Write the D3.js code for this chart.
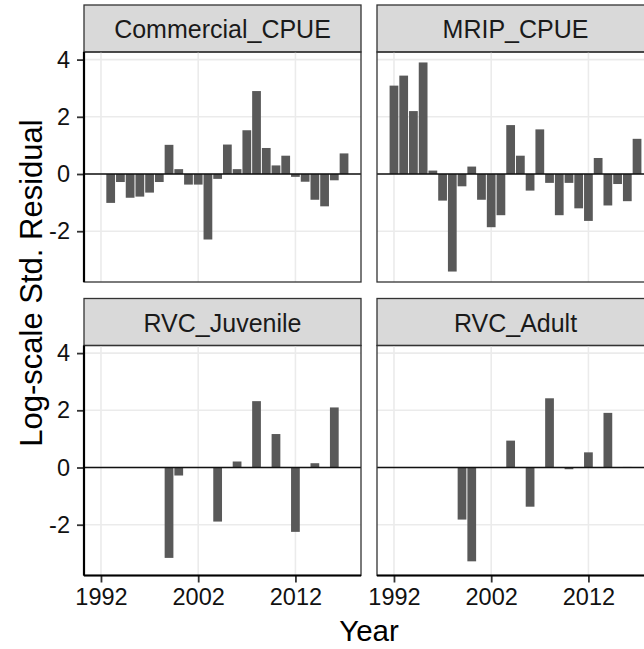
<!DOCTYPE html>
<html><head><meta charset="utf-8">
<script src="https://cdn.jsdelivr.net/npm/d3@7"></script>
<style>
html,body{margin:0;padding:0;background:#fff;}
text{font-family:"Liberation Sans",Arial,Helvetica,sans-serif;}
</style></head>
<body>
<svg id="chart" width="644" height="649"></svg>
<script>
const commercialYears = [1993,1994,1995,1996,1997,1998,1999,2000,2001,2002,2003,2004,2005,2006,2007,2008,2009,2010,2011,2012,2013,2014,2015,2016,2017];
const commercialValues = [-1.01,-0.28,-0.83,-0.79,-0.65,-0.28,1.02,0.17,-0.37,-0.37,-2.29,-0.17,1.03,0.17,1.53,2.9,0.91,0.3,0.64,-0.1,-0.27,-0.9,-1.13,-0.22,0.72];
const mripYears = [1992,1993,1994,1995,1996,1997,1998,1999,2000,2001,2002,2003,2004,2005,2006,2007,2008,2009,2010,2011,2012,2013,2014,2015,2016,2017];
const mripValues = [3.09,3.44,2.2,3.9,0.12,-0.93,-3.41,-0.43,0.26,-0.9,-1.86,-1.44,1.71,0.64,-0.58,1.56,-0.31,-1.44,-0.31,-1.2,-1.64,0.56,-1.1,-0.35,-0.95,1.23];
const rvcJuvenileYears = [1999,2000,2004,2006,2008,2010,2012,2014,2016];
const rvcJuvenileValues = [-3.16,-0.28,-1.89,0.21,2.32,1.17,-2.25,0.15,2.1];
const rvcAdultYears = [1999,2000,2004,2006,2008,2010,2012,2014,2016];
const rvcAdultValues = [-1.82,-3.28,0.94,-1.37,2.42,-0.06,0.53,1.91,0.02];
const panelNames = ["Commercial_CPUE","MRIP_CPUE","RVC_Juvenile","RVC_Adult"];
const xTicks = [1992,2002,2012];
const yTicks = [-2,0,2,4];
const xTitle = "Year";
const yTitle = "Log-scale Std. Residual";

const series = [
  {name: panelNames[0], years: commercialYears, values: commercialValues},
  {name: panelNames[1], years: mripYears, values: mripValues},
  {name: panelNames[2], years: rvcJuvenileYears, values: rvcJuvenileValues},
  {name: panelNames[3], years: rvcAdultYears, values: rvcAdultValues}
];

const svg = d3.select("#chart");
svg.append("rect").attr("width",644).attr("height",649).attr("fill","#fff");

const barW = 0.9;
const allYears = series.flatMap(s => s.years);
const allVals = series.flatMap(s => s.values).concat([0]);
const xMin = d3.min(allYears) - barW/2, xMax = d3.max(allYears) + barW/2;
const xPad = (xMax - xMin) * 0.05;
const yMin = d3.min(allVals), yMax = d3.max(allVals);
const yPad = (yMax - yMin) * 0.05;

const colX = [84, 377];
const panelW = 277;
const rowStrip = [5, 298.5];
const stripH = 47;
const panelH = 230;

const font = '"Liberation Sans",Arial,Helvetica,sans-serif';

series.forEach((s, i) => {
  const col = i % 2, row = Math.floor(i / 2);
  const x0 = colX[col];
  const sTop = rowStrip[row];
  const pTop = sTop + stripH;
  const x = d3.scaleLinear().domain([xMin - xPad, xMax + xPad]).range([x0, x0 + panelW]);
  const y = d3.scaleLinear().domain([yMin - yPad, yMax + yPad]).range([pTop + panelH, pTop]);
  const g = svg.append("g");

  // strip
  g.append("rect").attr("x", x0).attr("y", sTop).attr("width", panelW).attr("height", stripH)
    .attr("fill", "#d9d9d9").attr("stroke", "#333").attr("stroke-width", 1.3);
  g.append("text").attr("x", x0 + panelW/2).attr("y", sTop + 33)
    .attr("text-anchor", "middle").attr("font-size", "25px").attr("fill", "#1a1a1a")
    .text(s.name);

  // grid
  g.selectAll(".gx").data(xTicks).enter().append("line")
    .attr("x1", d => x(d)).attr("x2", d => x(d)).attr("y1", pTop).attr("y2", pTop + panelH)
    .attr("stroke", "#ebebeb").attr("stroke-width", 1.6);
  g.selectAll(".gy").data(yTicks).enter().append("line")
    .attr("x1", x0).attr("x2", x0 + panelW).attr("y1", d => y(d)).attr("y2", d => y(d))
    .attr("stroke", "#ebebeb").attr("stroke-width", 1.6);

  // bars
  const data = s.years.map((yr, k) => ({yr, v: s.values[k]}));
  g.selectAll(".bar").data(data).enter().append("rect")
    .attr("x", d => x(d.yr - barW/2))
    .attr("width", d => x(d.yr + barW/2) - x(d.yr - barW/2))
    .attr("y", d => y(Math.max(0, d.v)))
    .attr("height", d => Math.max(0.8, Math.abs(y(d.v) - y(0))))
    .attr("fill", "#595959");

  // zero line
  g.append("line").attr("x1", x0).attr("x2", x0 + panelW).attr("y1", y(0)).attr("y2", y(0))
    .attr("stroke", "#111").attr("stroke-width", 1.3);

  // panel border
  g.append("rect").attr("x", x0).attr("y", pTop).attr("width", panelW).attr("height", panelH)
    .attr("fill", "none").attr("stroke", "#333").attr("stroke-width", 1.3);

  if (col === 0) {
    const ax = g.append("g").attr("transform", `translate(${x0},0)`)
      .call(d3.axisLeft(y).tickValues(yTicks).tickSize(7).tickPadding(7).tickFormat(d3.format("d")));
    ax.select(".domain").remove();
    ax.selectAll(".tick line").attr("stroke", "#333").attr("stroke-width", 1.8);
    ax.selectAll(".tick text").attr("font-size", "23.5px").attr("fill", "#111")
      .attr("font-family", font).text(d => d < 0 ? "-" + Math.abs(d) : d);
    g.append("line").attr("x1", x0).attr("x2", x0).attr("y1", pTop).attr("y2", pTop + panelH)
      .attr("stroke", "#000").attr("stroke-width", 2.2);
  }
  if (row === 1) {
    const ax = g.append("g").attr("transform", `translate(0,${pTop + panelH})`)
      .call(d3.axisBottom(x).tickValues(xTicks).tickSize(7).tickPadding(6).tickFormat(d3.format("d")));
    ax.select(".domain").remove();
    ax.selectAll(".tick line").attr("stroke", "#333").attr("stroke-width", 1.8);
    ax.selectAll(".tick text").attr("font-size", "23.5px").attr("fill", "#111")
      .attr("font-family", font);
    g.append("line").attr("x1", x0).attr("x2", x0 + panelW).attr("y1", pTop + panelH).attr("y2", pTop + panelH)
      .attr("stroke", "#000").attr("stroke-width", 2.2);
  }
});

svg.append("text").attr("x", 369).attr("y", 641).attr("text-anchor", "middle")
  .attr("font-size", "29.5px").attr("fill", "#000").text(xTitle);
svg.append("text").attr("transform", "translate(42,283) rotate(-90)").attr("text-anchor", "middle")
  .attr("font-size", "31px").attr("fill", "#000").text(yTitle);
</script>
</body></html>
